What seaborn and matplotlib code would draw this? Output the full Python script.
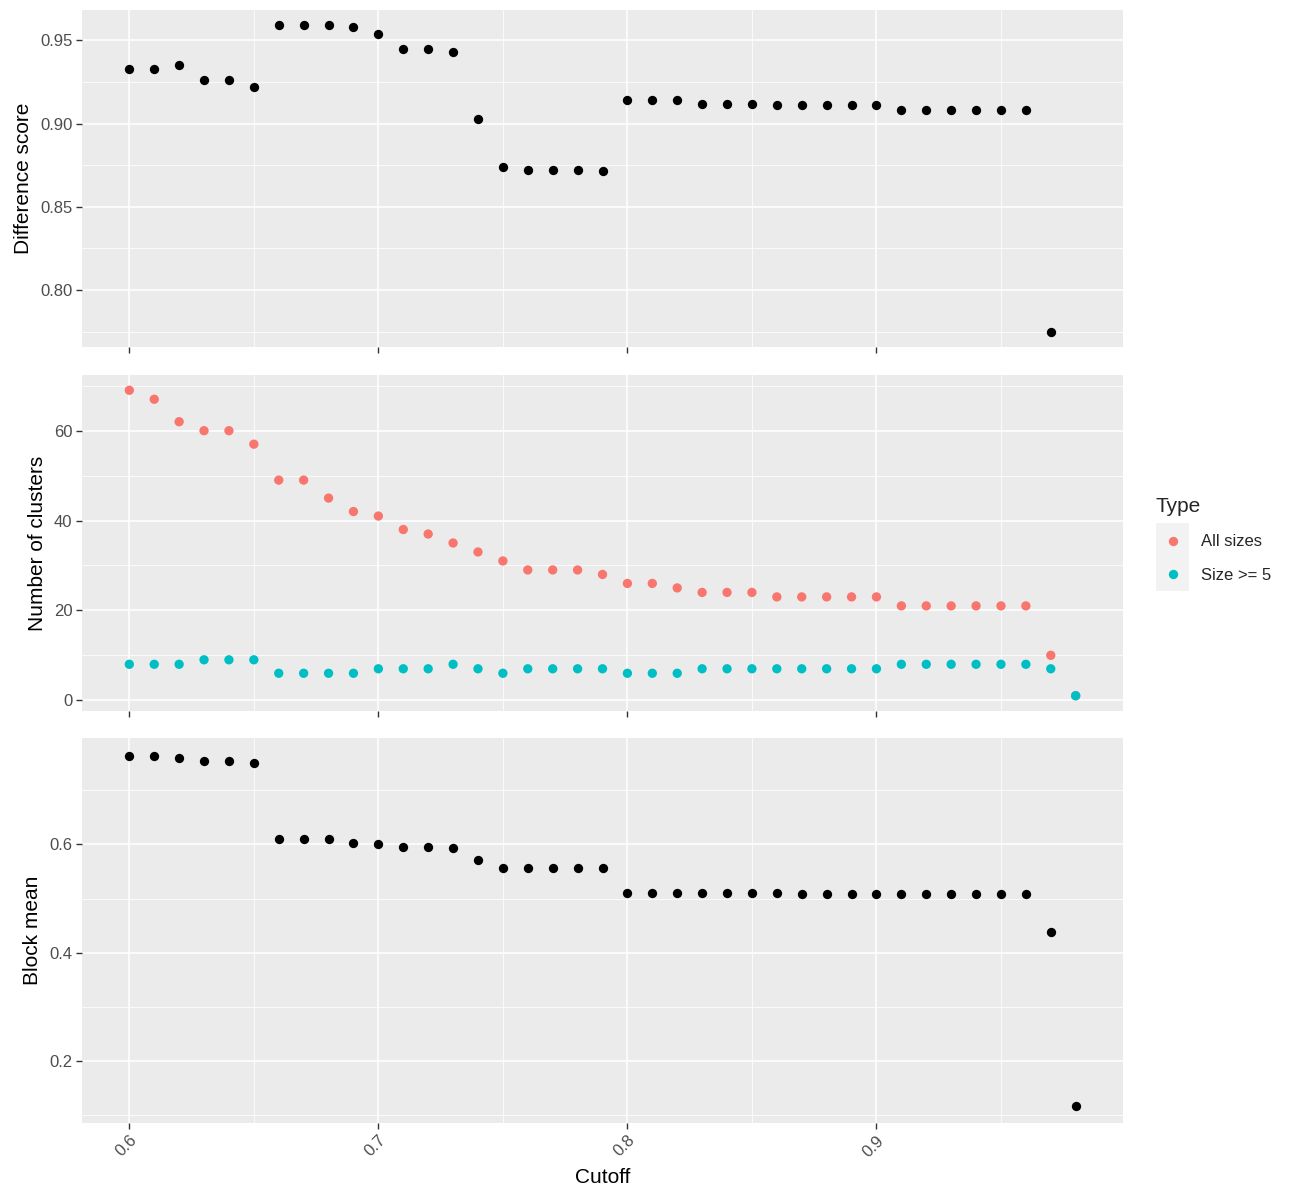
import numpy as np
import pandas as pd
import matplotlib
matplotlib.use('Agg')
import matplotlib.pyplot as plt
from matplotlib.ticker import AutoMinorLocator, FormatStrFormatter, MultipleLocator
from matplotlib.patches import Rectangle
import seaborn as sns

# data
cutoff = [0.60, 0.61, 0.62, 0.63, 0.64, 0.65, 0.66, 0.67, 0.68, 0.69,
          0.70, 0.71, 0.72, 0.73, 0.74, 0.75, 0.76, 0.77, 0.78, 0.79,
          0.80, 0.81, 0.82, 0.83, 0.84, 0.85, 0.86, 0.87, 0.88, 0.89,
          0.90, 0.91, 0.92, 0.93, 0.94, 0.95, 0.96, 0.97, 0.98]

diff_score = [0.933, 0.933, 0.935, 0.926, 0.926, 0.922, 0.959, 0.959, 0.959, 0.958,
              0.954, 0.945, 0.945, 0.943, 0.903, 0.874, 0.872, 0.872, 0.872, 0.8716,
              0.914, 0.914, 0.914, 0.912, 0.912, 0.912, 0.911, 0.911, 0.911, 0.911,
              0.911, 0.908, 0.908, 0.908, 0.908, 0.908, 0.908, 0.775, np.nan]

n_all = [69, 67, 62, 60, 60, 57, 49, 49, 45, 42,
         41, 38, 37, 35, 33, 31, 29, 29, 29, 28,
         26, 26, 25, 24, 24, 24, 23, 23, 23, 23,
         23, 21, 21, 21, 21, 21, 21, 10, 1]

n_big = [8, 8, 8, 9, 9, 9, 6, 6, 6, 6,
         7, 7, 7, 8, 7, 6, 7, 7, 7, 7,
         6, 6, 6, 7, 7, 7, 7, 7, 7, 7,
         7, 8, 8, 8, 8, 8, 8, 7, 1]

block_mean = [0.764, 0.764, 0.759, 0.754, 0.754, 0.751, 0.610, 0.610, 0.609, 0.603,
              0.601, 0.595, 0.595, 0.593, 0.571, 0.556, 0.556, 0.556, 0.556, 0.556,
              0.511, 0.511, 0.511, 0.511, 0.511, 0.511, 0.511, 0.509, 0.509, 0.509,
              0.509, 0.509, 0.509, 0.509, 0.509, 0.509, 0.509, 0.439, 0.118]

type_labels = ['All sizes', 'Size >= 5']
type_colors = ['#F8766D', '#00BFC4']

sns.set_theme(style='darkgrid', rc={
    'axes.facecolor': '#EBEBEB',
    'grid.color': 'white',
    'axes.edgecolor': '#EBEBEB',
    'xtick.color': '#333333',
    'ytick.color': '#333333',
    'xtick.labelcolor': '#4D4D4D',
    'ytick.labelcolor': '#4D4D4D',
    'axes.labelcolor': 'black',
    'xtick.bottom': True,
    'ytick.left': True,
})
plt.rcParams['font.family'] = ['Liberation Sans', 'DejaVu Sans']

df_top = pd.DataFrame({'Cutoff': cutoff, 'score': diff_score})
df_mid = pd.DataFrame({
    'Cutoff': cutoff + cutoff,
    'clusters': n_all + n_big,
    'Type': [type_labels[0]] * len(cutoff) + [type_labels[1]] * len(cutoff),
})
df_bot = pd.DataFrame({'Cutoff': cutoff, 'mean': block_mean})

fig = plt.figure(figsize=(13, 12), dpi=100)
W, H = 1300, 1200
ax1 = fig.add_axes([82 / W, 1 - 347 / H, 1041 / W, 337 / H])
ax2 = fig.add_axes([82 / W, 1 - 711 / H, 1041 / W, 336 / H])
ax3 = fig.add_axes([82 / W, 1 - 1123 / H, 1041 / W, 385 / H])

pt = 45
sns.scatterplot(data=df_top, x='Cutoff', y='score', color='black', s=pt, linewidth=0, ax=ax1)
sns.scatterplot(data=df_mid, x='Cutoff', y='clusters', hue='Type', hue_order=type_labels,
                palette=type_colors, s=pt, linewidth=0, ax=ax2)
sns.scatterplot(data=df_bot, x='Cutoff', y='mean', color='black', s=pt, linewidth=0, ax=ax3)

tick_fs = 12
title_fs = 15

xr = max(cutoff) - min(cutoff)
for ax in (ax1, ax2, ax3):
    ax.set_xlim(min(cutoff) - 0.05 * xr, max(cutoff) + 0.05 * xr)
    ax.xaxis.set_major_locator(MultipleLocator(0.1))
    ax.xaxis.set_minor_locator(AutoMinorLocator(2))
    ax.grid(which='major', color='white', linewidth=1.1)
    ax.grid(which='minor', color='white', linewidth=0.55)
    ax.tick_params(which='major', bottom=True, left=True, length=4, width=1,
                   labelsize=tick_fs, pad=3, color='#333333')
    ax.tick_params(which='minor', length=0)
    for s in ax.spines.values():
        s.set_visible(False)

ax1.set_yticks([0.80, 0.85, 0.90, 0.95])
ax1.yaxis.set_major_formatter(FormatStrFormatter('%.2f'))
ax2.set_yticks([0, 20, 40, 60])
ax3.set_yticks([0.2, 0.4, 0.6])
for ax in (ax1, ax2, ax3):
    ax.yaxis.set_minor_locator(AutoMinorLocator(2))

ax1.tick_params(axis='x', labelbottom=False)
ax2.tick_params(axis='x', labelbottom=False)
ax1.set_xlabel('')
ax2.set_xlabel('')
ax1.set_ylabel('Difference score', fontsize=title_fs, labelpad=5)
ax2.set_ylabel('Number of clusters', fontsize=title_fs, labelpad=5)
ax3.set_ylabel('Block mean', fontsize=title_fs, labelpad=5)
ax3.set_xlabel('Cutoff', fontsize=title_fs, labelpad=6)
for lab in ax3.get_xticklabels():
    lab.set_rotation(45)
    lab.set_ha('right')
    lab.set_rotation_mode('anchor')

handles, labels = ax2.get_legend_handles_labels()
ax2.get_legend().remove()
leg = fig.legend(handles, labels, title='Type', loc='upper left',
                 bbox_to_anchor=(1156 / W, 1 - 497 / H), frameon=False,
                 borderpad=0, borderaxespad=0,
                 fontsize=tick_fs, title_fontsize=title_fs, handletextpad=0.7,
                 labelspacing=1.1, handlelength=2.0)
leg._legend_box.align = 'left'

# grey key backgrounds like ggplot
fig.canvas.draw()
for h in leg.legend_handles:
    bb = h.get_window_extent(fig.canvas.get_renderer())
    cx = (bb.x0 + bb.x1) / 2 / W
    cy = (bb.y0 + bb.y1) / 2 / H
    fig.patches.append(Rectangle((cx - 16.5 / W, cy - 17.5 / H), 33 / W, 35 / H,
                                 transform=fig.transFigure, facecolor='#F2F2F2',
                                 edgecolor='none', zorder=0))

fig.savefig('out.png', dpi=100, facecolor='white')
